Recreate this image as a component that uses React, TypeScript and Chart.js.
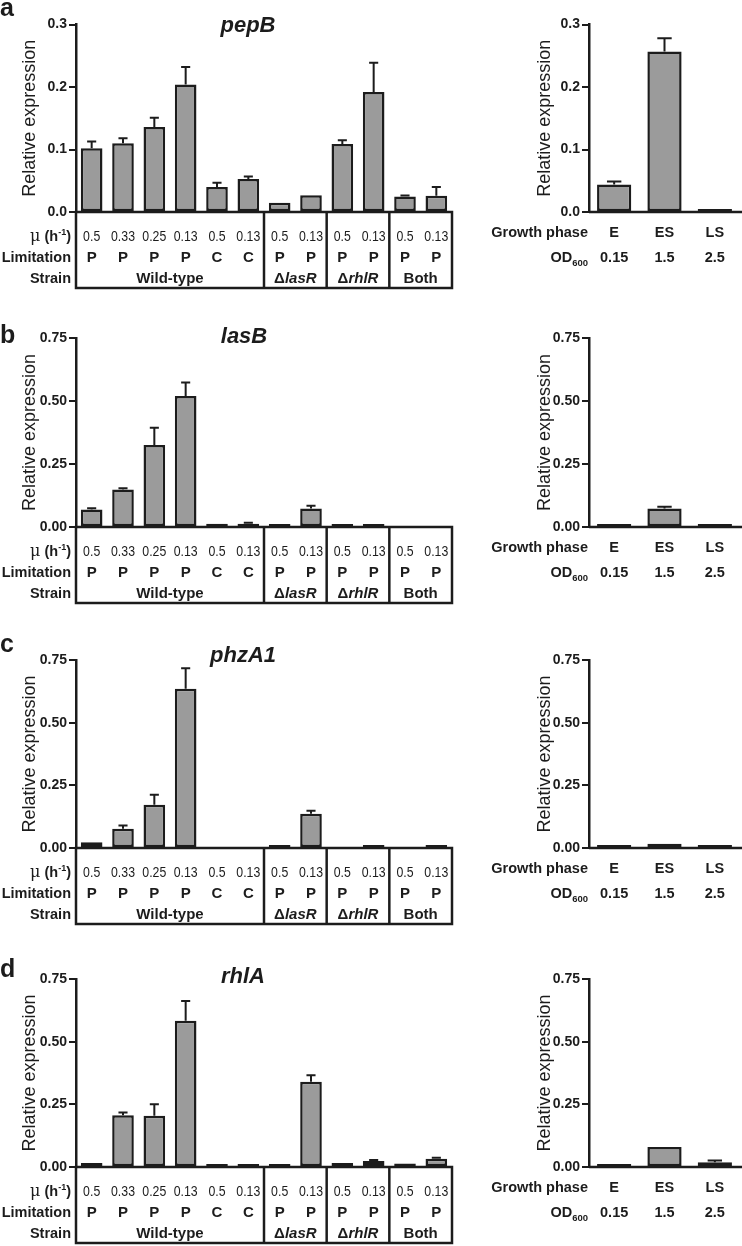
import React, { useEffect, useRef } from "react";
import { Chart, registerables } from "chart.js";
Chart.register(...registerables);

// ---------- data ----------
const conditionLabels = ["WT-0.5-P", "WT-0.33-P", "WT-0.25-P", "WT-0.13-P", "WT-0.5-C", "WT-0.13-C", "lasR-0.5-P", "lasR-0.13-P", "rhlR-0.5-P", "rhlR-0.13-P", "both-0.5-P", "both-0.13-P"];
const muLabels = ["0.5", "0.33", "0.25", "0.13", "0.5", "0.13", "0.5", "0.13", "0.5", "0.13", "0.5", "0.13"];
const limitationLabels = ["P", "P", "P", "P", "C", "C", "P", "P", "P", "P", "P", "P"];
const strainLabels = ["Wild-type", "Wild-type", "Wild-type", "Wild-type", "Wild-type", "Wild-type", "ΔlasR", "ΔlasR", "ΔrhlR", "ΔrhlR", "Both", "Both"];
const phaseLabels = ["E", "ES", "LS"];
const odLabels = ["0.15", "1.5", "2.5"];

type V = number | null;

const pepBMeans: V[] = [0.102, 0.110, 0.136, 0.204, 0.040, 0.053, 0.015, 0.027, 0.109, 0.192, 0.025, 0.026];
const pepBErrors = [0.011, 0.008, 0.015, 0.028, 0.007, 0.004, 0.0005, 0.001, 0.006, 0.047, 0.0015, 0.014];
const pepBPhaseMeans: V[] = [0.044, 0.257, 0.003];
const pepBPhaseErrors = [0.005, 0.021, 0.0005];

const lasBMeans: V[] = [0.069, 0.149, 0.325, 0.520, 0.013, 0.013, 0.002, 0.073, 0.006, 0.004, null, null];
const lasBErrors = [0.005, 0.005, 0.069, 0.053, 0.003, 0.004, 0, 0.011, 0.001, 0, 0, 0];
const lasBPhaseMeans: V[] = [0.004, 0.073, 0.004];
const lasBPhaseErrors = [0, 0.007, 0];

const phzA1Means: V[] = [0.023, 0.077, 0.173, 0.635, null, null, 0.001, 0.137, null, 0.003, null, 0.002];
const phzA1Errors = [0.002, 0.013, 0.039, 0.082, 0, 0, 0, 0.012, 0, 0, 0, 0];
const phzA1PhaseMeans: V[] = [0.002, 0.017, 0.001];
const phzA1PhaseErrors = [0, 0.002, 0];

const rhlAMeans: V[] = [0.016, 0.206, 0.204, 0.583, 0.004, 0.008, 0.003, 0.340, 0.016, 0.024, 0.014, 0.033];
const rhlAErrors = [0.002, 0.011, 0.046, 0.079, 0, 0.001, 0, 0.026, 0.002, 0.004, 0.002, 0.004];
const rhlAPhaseMeans: V[] = [0.006, 0.080, 0.019];
const rhlAPhaseErrors = [0, 0.002, 0.007];

// ---------- styling ----------
const INK = "#1c1c1c";
const BAR = "#9b9b9b";
const FONT = "'Liberation Sans', Arial, sans-serif";
const B = (s: number) => `bold ${s}px ${FONT}`;
const BI = (s: number) => `italic bold ${s}px ${FONT}`;
const R = (s: number) => `${s}px ${FONT}`;

type Seg = { t: string; f: string; dy?: number; sx?: number };
function drawRich(ctx: CanvasRenderingContext2D, segs: Seg[], x: number, y: number, align: "left" | "center" | "right") {
  let total = 0;
  const widths = segs.map((s) => {
    ctx.font = s.f;
    const w = ctx.measureText(s.t).width * (s.sx ?? 1);
    total += w;
    return w;
  });
  let cx = align === "left" ? x : align === "center" ? x - total / 2 : x - total;
  segs.forEach((s, i) => {
    ctx.save();
    ctx.font = s.f;
    ctx.fillStyle = INK;
    ctx.textAlign = "left";
    ctx.textBaseline = "alphabetic";
    ctx.translate(cx, y + (s.dy ?? 0));
    ctx.scale(s.sx ?? 1, 1);
    ctx.fillText(s.t, 0, 0);
    ctx.restore();
    cx += widths[i];
  });
}

function strainSegs(name: string): Seg[] {
  if (name.startsWith("Δ")) return [{ t: "Δ", f: B(15) }, { t: name.slice(1), f: BI(15) }];
  return [{ t: name, f: B(15) }];
}

function drawErrorBars(chart: any, means: V[], errors: number[]) {
  const ctx = chart.ctx as CanvasRenderingContext2D;
  const meta = chart.getDatasetMeta(0);
  const y = chart.scales.y;
  ctx.save();
  ctx.strokeStyle = INK;
  ctx.lineWidth = 2;
  meta.data.forEach((bar: any, i: number) => {
    const m = means[i];
    const e = errors[i];
    if (m === null || !e || e <= 0) return;
    const top = y.getPixelForValue(m + e);
    const base = Math.min(y.getPixelForValue(m), bar.y);
    if (base - top < 0.8) return;
    const half = bar.width * 0.21;
    ctx.beginPath();
    ctx.moveTo(bar.x, base);
    ctx.lineTo(bar.x, top);
    ctx.moveTo(bar.x - half, top);
    ctx.lineTo(bar.x + half, top);
    ctx.stroke();
  });
  ctx.restore();
}

type PanelSpec = {
  letter: string; gene: string;
  canvasTop: number; axisTop: number; axisZero: number;
  letterY: number; titleX: number; titleY: number;
  max: number; step: number; decimals: number;
  means: V[]; errors: number[]; phaseMeans: V[]; phaseErrors: number[];
};

const panels: PanelSpec[] = [
  { letter: "a", gene: "pepB", canvasTop: 0, axisTop: 24.5, axisZero: 212, letterY: 16, titleX: 248, titleY: 32, max: 0.3, step: 0.1, decimals: 1, means: pepBMeans, errors: pepBErrors, phaseMeans: pepBPhaseMeans, phaseErrors: pepBPhaseErrors },
  { letter: "b", gene: "lasB", canvasTop: 305, axisTop: 338, axisZero: 527, letterY: 343, titleX: 244, titleY: 343, max: 0.75, step: 0.25, decimals: 2, means: lasBMeans, errors: lasBErrors, phaseMeans: lasBPhaseMeans, phaseErrors: lasBPhaseErrors },
  { letter: "c", gene: "phzA1", canvasTop: 625, axisTop: 660, axisZero: 848, letterY: 652, titleX: 243, titleY: 662, max: 0.75, step: 0.25, decimals: 2, means: phzA1Means, errors: phzA1Errors, phaseMeans: phzA1PhaseMeans, phaseErrors: phzA1PhaseErrors },
  { letter: "d", gene: "rhlA", canvasTop: 945, axisTop: 979, axisZero: 1167, letterY: 977, titleX: 243, titleY: 983, max: 0.75, step: 0.25, decimals: 2, means: rhlAMeans, errors: rhlAErrors, phaseMeans: rhlAPhaseMeans, phaseErrors: rhlAPhaseErrors },
];

const LEFT_W = 460;
const RIGHT_X = 460;
const RIGHT_W = 282;

function yScale(p: PanelSpec, axisWidth: number, titlePad: number) {
  return {
    min: 0,
    max: p.max,
    ticks: {
      stepSize: p.step,
      callback: (v: any) => Number(v).toFixed(p.decimals),
      font: { family: FONT, size: 14, weight: "bold" },
      color: INK,
      padding: 2,
    },
    grid: { drawOnChartArea: false, drawTicks: true, tickLength: 7, color: INK, lineWidth: 2 },
    border: { display: true, color: INK, width: 2.5 },
    title: { display: true, text: "Relative expression", font: { family: FONT, size: 18 }, color: INK, padding: { top: titlePad, bottom: 0 } },
    afterFit: (s: any) => { s.width = axisWidth; },
  };
}

function barDataset(values: V[], pct: number) {
  return { data: values, backgroundColor: BAR, borderColor: INK, borderWidth: 2.5, borderSkipped: false, barPercentage: pct, categoryPercentage: 1, minBarLength: 3 };
}

function leftConfig(p: PanelSpec, H: number): any {
  const plugin = {
    id: "leftDecor",
    afterDatasetsDraw(chart: any) {
      drawErrorBars(chart, p.means, p.errors);
    },
    afterDraw(chart: any) {
      const ctx = chart.ctx as CanvasRenderingContext2D;
      const xs = chart.scales.x;
      const a = chart.chartArea;
      const y0 = a.bottom;
      const bottom = y0 + 76;
      const off = p.canvasTop;
      ctx.save();
      ctx.strokeStyle = INK;
      ctx.lineWidth = 2.5;
      ctx.strokeRect(a.left, y0, a.right - a.left, bottom - y0);
      let start = 0;
      for (let i = 1; i <= strainLabels.length; i++) {
        if (i === strainLabels.length || strainLabels[i] !== strainLabels[start]) {
          const cx = (xs.getPixelForValue(start) + xs.getPixelForValue(i - 1)) / 2;
          drawRich(ctx, strainSegs(strainLabels[start]), cx, y0 + 71, "center");
          if (i < strainLabels.length) {
            const bx = (xs.getPixelForValue(i - 1) + xs.getPixelForValue(i)) / 2;
            ctx.beginPath();
            ctx.moveTo(bx, y0);
            ctx.lineTo(bx, bottom);
            ctx.stroke();
          }
          start = i;
        }
      }
      ctx.restore();
      muLabels.forEach((t, i) => drawRich(ctx, [{ t, f: R(15), sx: 0.82 }], xs.getPixelForValue(i), y0 + 28.5, "center"));
      limitationLabels.forEach((t, i) => drawRich(ctx, [{ t, f: B(15) }], xs.getPixelForValue(i), y0 + 49.5, "center"));
      const lx = a.left - 5;
      drawRich(ctx, [
        { t: "μ", f: `16px 'DejaVu Serif', 'Liberation Serif', serif` },
        { t: " (h", f: B(14.5) },
        { t: "-1", f: B(9), dy: -6 },
        { t: ")", f: B(14.5) },
      ], lx, y0 + 28.5, "right");
      drawRich(ctx, [{ t: "Limitation", f: B(14.5) }], lx, y0 + 49.5, "right");
      drawRich(ctx, [{ t: "Strain", f: B(14.5) }], lx, y0 + 71, "right");
      drawRich(ctx, [{ t: p.letter, f: B(25) }], 0, p.letterY - off, "left");
      drawRich(ctx, [{ t: p.gene, f: BI(22) }], p.titleX, p.titleY - off, "center");
    },
  };
  return {
    type: "bar",
    data: { labels: conditionLabels, datasets: [barDataset(p.means, 0.69)] },
    options: {
      responsive: false,
      animation: false,
      devicePixelRatio: 1,
      layout: { padding: { top: p.axisTop - p.canvasTop, bottom: H - (p.axisZero - p.canvasTop), left: 0, right: 8 } },
      plugins: { legend: { display: false }, tooltip: { enabled: false }, title: { display: false } },
      scales: {
        x: { display: false, offset: true },
        y: yScale(p, 76, 19),
      },
    },
    plugins: [plugin],
  };
}

function rightConfig(p: PanelSpec, H: number): any {
  const plugin = {
    id: "rightDecor",
    afterDatasetsDraw(chart: any) {
      drawErrorBars(chart, p.phaseMeans, p.phaseErrors);
    },
    afterDraw(chart: any) {
      const ctx = chart.ctx as CanvasRenderingContext2D;
      const xs = chart.scales.x;
      const a = chart.chartArea;
      const y0 = a.bottom;
      ctx.save();
      ctx.strokeStyle = INK;
      ctx.lineWidth = 2.5;
      ctx.beginPath();
      ctx.moveTo(a.left, y0);
      ctx.lineTo(a.right + 2, y0);
      ctx.stroke();
      ctx.restore();
      const lx = a.left - 1;
      drawRich(ctx, [{ t: "Growth phase", f: B(14.5) }], lx, y0 + 25, "right");
      drawRich(ctx, [{ t: "OD", f: B(14.5) }, { t: "600", f: B(9.5), dy: 4 }], lx, y0 + 49.5, "right");
      phaseLabels.forEach((t, i) => drawRich(ctx, [{ t, f: B(14.5) }], xs.getPixelForValue(i), y0 + 25, "center"));
      odLabels.forEach((t, i) => drawRich(ctx, [{ t, f: B(14.5) }], xs.getPixelForValue(i), y0 + 49.5, "center"));
    },
  };
  return {
    type: "bar",
    data: { labels: phaseLabels, datasets: [barDataset(p.phaseMeans, 0.68)] },
    options: {
      responsive: false,
      animation: false,
      devicePixelRatio: 1,
      layout: { padding: { top: p.axisTop - p.canvasTop, bottom: H - (p.axisZero - p.canvasTop), left: 0, right: 2 } },
      plugins: { legend: { display: false }, tooltip: { enabled: false }, title: { display: false } },
      scales: {
        x: { display: false, offset: true },
        y: yScale(p, 129, 74),
      },
    },
    plugins: [plugin],
  };
}

function ChartCanvas({ left, top, width, height, build }: { left: number; top: number; width: number; height: number; build: () => any }) {
  const ref = useRef<HTMLCanvasElement>(null);
  useEffect(() => {
    const chart = new Chart(ref.current as HTMLCanvasElement, build());
    return () => chart.destroy();
  }, []);
  return <canvas ref={ref} width={width} height={height} style={{ position: "absolute", left, top, width, height }} />;
}

export default function App() {
  return (
    <div style={{ position: "absolute", left: 0, top: 0, width: 742, height: 1246, background: "#fff", overflow: "hidden" }}>
      {panels.map((p) => {
        const HL = p.axisZero + 78 - p.canvasTop;
        const HR = p.axisZero + 58 - p.canvasTop;
        return (
          <React.Fragment key={p.gene}>
            <ChartCanvas left={0} top={p.canvasTop} width={LEFT_W} height={HL} build={() => leftConfig(p, HL)} />
            <ChartCanvas left={RIGHT_X} top={p.canvasTop} width={RIGHT_W} height={HR} build={() => rightConfig(p, HR)} />
          </React.Fragment>
        );
      })}
    </div>
  );
}
